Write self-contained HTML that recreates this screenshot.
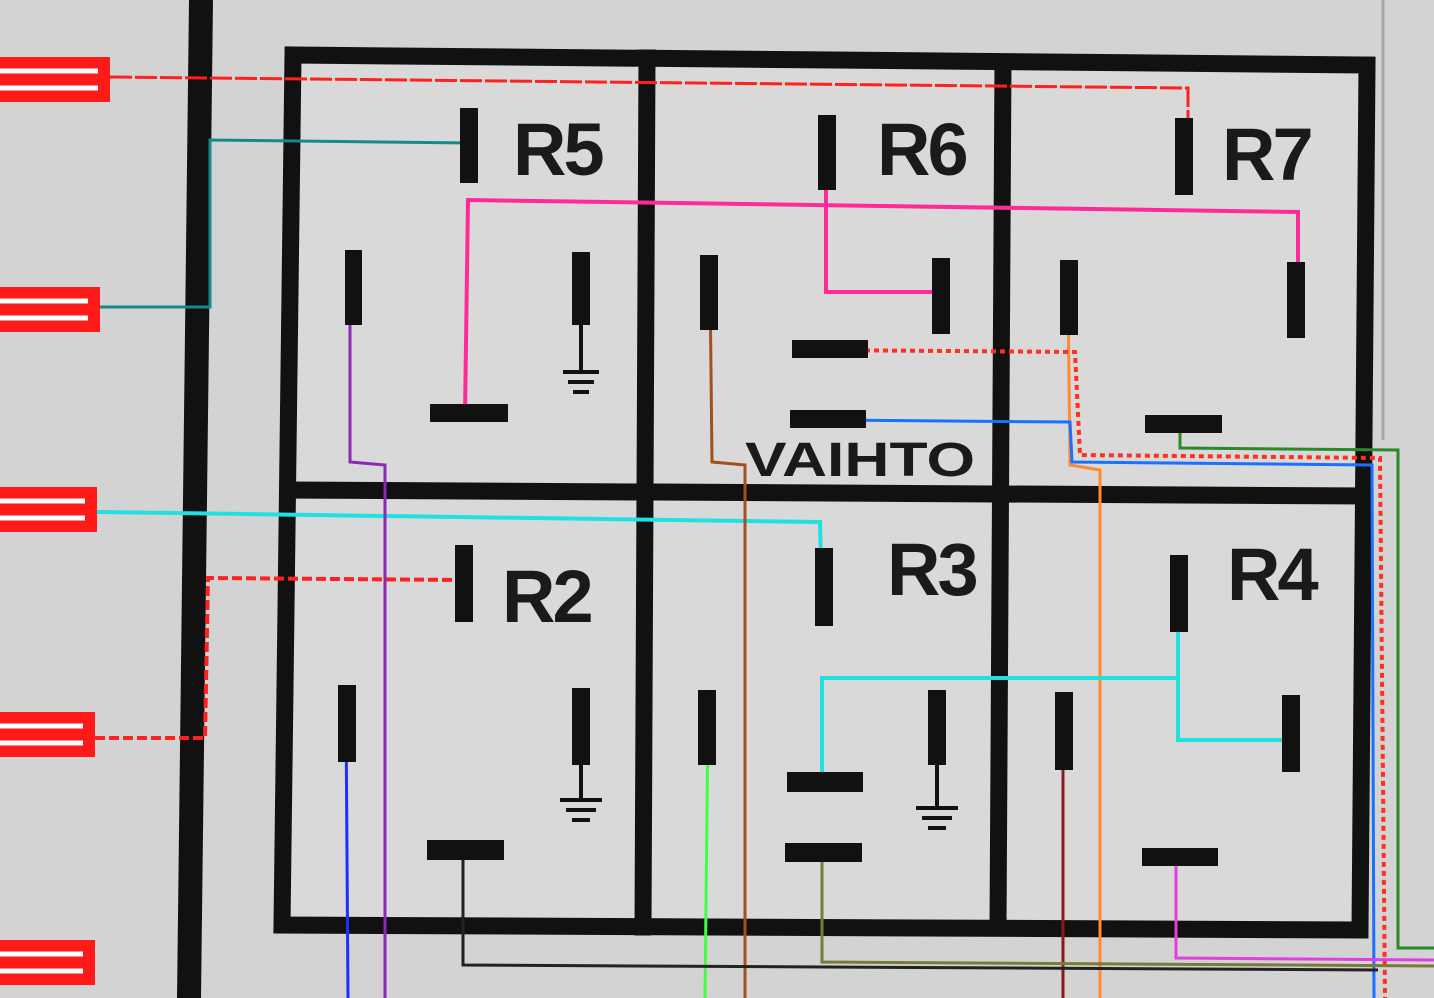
<!DOCTYPE html>
<html><head><meta charset="utf-8"><style>
html,body{margin:0;padding:0;background:#d3d3d3;}
svg{display:block}
text{font-family:"Liberation Sans",sans-serif;font-weight:bold;fill:#1a1a1a}
</style></head><body>
<svg width="1434" height="998" viewBox="0 0 1434 998" xmlns="http://www.w3.org/2000/svg">
<rect width="1434" height="998" fill="#d3d3d3"/>
<line x1="1383" y1="0" x2="1383" y2="440" stroke="#a8a8a8" stroke-width="3"/>
<polygon points="293,55 1367,65 1360,930 282,925" fill="#d9d9d9"/>
<polygon points="189,0 213,0 201,998 177,998" fill="#111"/>
<g fill="#ff1a1a">
<rect x="-5" y="57" width="115" height="45"/>
<rect x="-5" y="287" width="105" height="45"/>
<rect x="-5" y="487" width="102" height="45"/>
<rect x="-5" y="712" width="100" height="45"/>
<rect x="-5" y="940" width="100" height="45"/>
</g>
<g stroke="#fff" stroke-width="5">
<line x1="0" y1="71" x2="98" y2="71"/><line x1="0" y1="88" x2="98" y2="88"/>
<line x1="0" y1="301" x2="88" y2="301"/><line x1="0" y1="318" x2="88" y2="318"/>
<line x1="0" y1="501" x2="85" y2="501"/><line x1="0" y1="518" x2="85" y2="518"/>
<line x1="0" y1="726" x2="83" y2="726"/><line x1="0" y1="743" x2="83" y2="743"/>
<line x1="0" y1="954" x2="83" y2="954"/><line x1="0" y1="971" x2="83" y2="971"/>
</g>
<g stroke="#111" stroke-width="17" fill="none" stroke-linecap="square">
<polygon points="293,55 1367,65 1360,930 282,925"/>
<line x1="288" y1="490" x2="1364" y2="496"/>
<line x1="647" y1="58" x2="643" y2="927"/>
<line x1="1003" y1="62" x2="998" y2="928"/>
</g>
<g fill="none" stroke-width="3">
<polyline points="110,77 1188,88 1188,160" stroke="#ff2020" stroke-dasharray="22,3"/>
<polyline points="100,307 210,307 210,140 470,143" stroke="#168a8a"/>
<polyline points="97,512 820,522 822,600" stroke="#22e0e0" stroke-width="4"/>
<polyline points="95,738 205,738 208,578 465,580" stroke="#ff2020" stroke-dasharray="10,4" stroke-width="4"/>
<polyline points="465,415 468,200 1298,212 1298,310" stroke="#ff2a9a" stroke-width="4"/>
<polyline points="826,135 826,292 940,292" stroke="#ff2a9a" stroke-width="4"/>
<polyline points="350,290 350,462 385,465 385,998" stroke="#8a2ab0"/>
<polyline points="710,280 712,462 745,465 745,998" stroke="#a0521a"/>
<polyline points="1068,290 1070,465 1100,470 1100,998" stroke="#ff8a30"/>
<polyline points="820,350 1075,352 1080,455 1380,458 1385,998" stroke="#ff3020" stroke-dasharray="5,4" stroke-width="4"/>
<polyline points="822,420 1070,422 1072,462 1372,465 1374,998" stroke="#1a70ff"/>
<polyline points="1180,422 1180,448 1398,450 1398,948 1434,948" stroke="#2a8a2a"/>
<polyline points="1178,585 1178,740 1292,740" stroke="#22e0e0" stroke-width="4"/>
<polyline points="1178,678 822,678 822,785" stroke="#22e0e0" stroke-width="4"/>
<polyline points="346,712 348,998" stroke="#1a30ff"/>
<polyline points="708,718 705,998" stroke="#40ff40"/>
<polyline points="1063,720 1063,998" stroke="#8a1a1a"/>
<polyline points="822,850 822,962 1434,966" stroke="#7a7a3a"/>
<polyline points="463,850 463,965 1378,970" stroke="#222"/>
<polyline points="1176,855 1176,958 1434,960" stroke="#e040e0"/>
</g>
<g fill="#111">
<rect x="460" y="108" width="18" height="75"/>
<rect x="345" y="250" width="17" height="75"/>
<rect x="572" y="252" width="18" height="73"/>
<rect x="430" y="404" width="78" height="18"/>
<rect x="818" y="115" width="18" height="75"/>
<rect x="700" y="255" width="18" height="75"/>
<rect x="932" y="258" width="18" height="76"/>
<rect x="792" y="340" width="76" height="18"/>
<rect x="790" y="410" width="76" height="18"/>
<rect x="1175" y="118" width="18" height="77"/>
<rect x="1060" y="260" width="18" height="75"/>
<rect x="1287" y="262" width="18" height="76"/>
<rect x="1145" y="415" width="77" height="18"/>
<rect x="455" y="545" width="18" height="77"/>
<rect x="338" y="685" width="18" height="77"/>
<rect x="572" y="688" width="18" height="77"/>
<rect x="427" y="840" width="77" height="20"/>
<rect x="815" y="548" width="18" height="78"/>
<rect x="698" y="690" width="18" height="75"/>
<rect x="928" y="690" width="18" height="75"/>
<rect x="787" y="772" width="76" height="20"/>
<rect x="785" y="843" width="77" height="19"/>
<rect x="1170" y="555" width="18" height="77"/>
<rect x="1055" y="692" width="18" height="78"/>
<rect x="1282" y="695" width="18" height="77"/>
<rect x="1142" y="848" width="76" height="18"/>
</g>
<g stroke="#111" stroke-width="4">
<line x1="581" y1="325" x2="581" y2="372"/><line x1="563" y1="372" x2="599" y2="372"/><line x1="568" y1="382" x2="594" y2="382"/><line x1="573" y1="392" x2="589" y2="392"/>
<line x1="581" y1="765" x2="581" y2="800"/><line x1="560" y1="800" x2="602" y2="800"/><line x1="566" y1="810" x2="596" y2="810"/><line x1="572" y1="820" x2="590" y2="820"/>
<line x1="937" y1="765" x2="937" y2="808"/><line x1="916" y1="808" x2="958" y2="808"/><line x1="922" y1="818" x2="952" y2="818"/><line x1="928" y1="828" x2="946" y2="828"/>
</g>
<g font-size="74" letter-spacing="-3">
<text x="513" y="175">R5</text>
<text x="877" y="175">R6</text>
<text x="1222" y="180">R7</text>
<text x="502" y="622">R2</text>
<text x="887" y="595">R3</text>
<text x="1227" y="600">R4</text>
</g>
<text x="745" y="476" font-size="48" font-weight="normal" textLength="230" lengthAdjust="spacingAndGlyphs">VAIHTO</text>
</svg>
</body></html>
